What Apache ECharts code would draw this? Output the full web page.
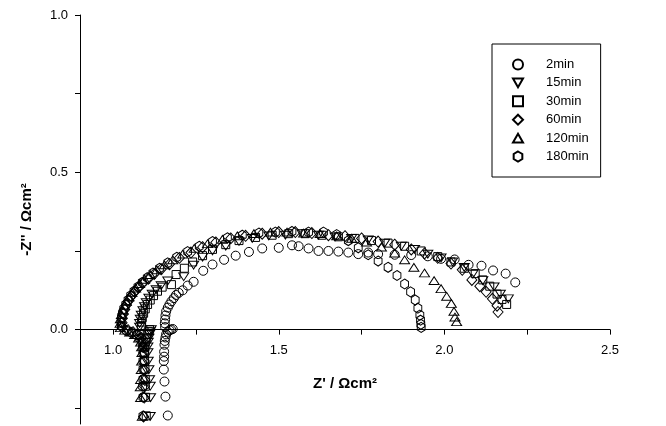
<!DOCTYPE html>
<html><head><meta charset="utf-8">
<script src="https://cdn.jsdelivr.net/npm/echarts@6/dist/echarts.min.js"></script>
<style>html,body{margin:0;padding:0;background:#fff}#c{width:666px;height:426px}</style>
</head><body><div id="c"></div>
<script>
const seriesNames = ['2min', '15min', '30min', '60min', '120min', '180min'];
const xTickValues = [1.0, 1.25, 1.5, 1.75, 2.0, 2.25, 2.5];
const xLabelValues = [1.0, 1.5, 2.0, 2.5];
const yTickValues = [-0.25, 0, 0.25, 0.5, 0.75, 1.0];
const yLabelValues = [0, 0.5, 1.0];

const data2min = [
  [1.165,-0.273],[1.158,-0.213],[1.155,-0.165],[1.153,-0.127],[1.153,-0.10],[1.154,-0.086],[1.154,-0.07],
  [1.155,-0.048],[1.156,-0.036],[1.158,-0.025],[1.16,-0.015],[1.165,-0.007],[1.17,-0.002],[1.175,0.0],[1.18,0.002],
  [1.157,0.008],[1.156,0.02],[1.157,0.032],[1.158,0.045],[1.16,0.058],[1.165,0.07],[1.17,0.08],[1.176,0.09],
  [1.183,0.10],[1.19,0.11],[1.198,0.117],[1.21,0.125],[1.225,0.14],[1.243,0.152],[1.272,0.187],[1.30,0.207],
  [1.335,0.222],[1.37,0.235],[1.41,0.247],[1.45,0.258],[1.50,0.26],[1.54,0.268],[1.56,0.265],[1.59,0.258],
  [1.62,0.25],[1.65,0.25],[1.68,0.248],[1.71,0.245],[1.74,0.24],[1.77,0.245],[1.80,0.24],[1.85,0.238],
  [1.90,0.237],[1.95,0.233],[1.99,0.225],[2.031,0.223],[2.073,0.206],[2.112,0.203],[2.147,0.188],[2.185,0.178],[2.214,0.15]
];
const data15min = [
  [1.112,-0.276],[1.113,-0.216],[1.112,-0.18],[1.11,-0.159],[1.108,-0.127],[1.106,-0.10],[1.105,-0.073],
  [1.105,-0.055],[1.106,-0.04],[1.108,-0.027],[1.11,-0.015],[1.112,-0.006],[1.115,0.0],
  [1.08,0.008],[1.08,0.02],[1.082,0.033],[1.085,0.046],[1.09,0.06],[1.095,0.073],[1.10,0.086],[1.108,0.10],
  [1.118,0.113],[1.13,0.127],[1.145,0.14],[1.165,0.155],[1.213,0.168],[1.243,0.205],[1.27,0.23],[1.30,0.25],
  [1.34,0.265],[1.38,0.28],[1.42,0.29],[1.47,0.298],[1.52,0.30],[1.57,0.305],[1.62,0.30],[1.67,0.295],
  [1.72,0.29],[1.77,0.285],[1.82,0.275],[1.87,0.265],[1.91,0.255],[1.95,0.24],[1.99,0.228],[2.025,0.215],
  [2.06,0.198],[2.086,0.176],[2.116,0.156],[2.15,0.136],[2.169,0.113],[2.193,0.098]
];
const data30min = [
  [1.10,-0.274],[1.098,-0.215],[1.097,-0.18],[1.097,-0.158],[1.096,-0.126],[1.095,-0.10],[1.095,-0.074],
  [1.096,-0.056],[1.097,-0.04],[1.10,-0.027],[1.103,-0.016],[1.106,-0.007],[1.11,0.0],
  [1.085,0.01],[1.086,0.024],[1.088,0.038],[1.092,0.052],[1.097,0.066],[1.104,0.08],[1.112,0.094],[1.122,0.108],
  [1.134,0.122],[1.148,0.135],[1.176,0.143],[1.19,0.175],[1.215,0.195],[1.24,0.215],[1.27,0.235],[1.30,0.255],
  [1.34,0.27],[1.38,0.283],[1.43,0.293],[1.48,0.30],[1.53,0.305],[1.58,0.305],[1.63,0.30],[1.68,0.295],
  [1.73,0.29],[1.78,0.283],[1.83,0.275],[1.88,0.265],[1.93,0.25],[1.98,0.232],[2.02,0.215],[2.06,0.195],
  [2.093,0.178],[2.116,0.158],[2.137,0.138],[2.159,0.113],[2.174,0.096],[2.188,0.08]
];
const data60min = [
  [1.092,-0.276],[1.094,-0.216],[1.095,-0.18],[1.096,-0.16],[1.095,-0.128],[1.094,-0.10],[1.093,-0.073],
  [1.092,-0.055],[1.09,-0.04],[1.085,-0.027],[1.075,-0.016],[1.06,-0.008],[1.045,-0.002],
  [1.028,0.008],[1.027,0.022],[1.028,0.036],[1.031,0.05],[1.035,0.064],[1.04,0.078],[1.047,0.092],[1.055,0.106],
  [1.065,0.12],[1.077,0.134],[1.09,0.148],[1.106,0.162],[1.124,0.177],[1.145,0.192],[1.17,0.208],[1.20,0.228],
  [1.235,0.245],[1.27,0.262],[1.31,0.277],[1.355,0.29],[1.40,0.298],[1.45,0.305],[1.50,0.31],[1.55,0.31],
  [1.60,0.307],[1.65,0.30],[1.70,0.297],[1.75,0.29],[1.80,0.28],[1.85,0.27],[1.90,0.255],[1.94,0.242],
  [1.98,0.228],[2.02,0.21],[2.054,0.19],[2.083,0.158],[2.107,0.138],[2.126,0.12],[2.145,0.098],[2.159,0.076],[2.162,0.056]
];
const data120min = [
  [1.088,-0.276],[1.083,-0.216],[1.082,-0.182],[1.083,-0.159],[1.085,-0.127],[1.086,-0.10],[1.087,-0.073],
  [1.086,-0.055],[1.083,-0.04],[1.077,-0.027],[1.065,-0.016],[1.05,-0.008],[1.035,-0.002],
  [1.022,0.006],[1.021,0.02],[1.022,0.034],[1.025,0.048],[1.029,0.062],[1.034,0.076],[1.04,0.09],[1.048,0.104],
  [1.057,0.118],[1.068,0.132],[1.08,0.146],[1.095,0.16],[1.112,0.175],[1.132,0.19],[1.155,0.206],[1.18,0.222],
  [1.21,0.24],[1.245,0.258],[1.285,0.273],[1.33,0.287],[1.375,0.298],[1.425,0.305],[1.475,0.31],[1.525,0.31],
  [1.575,0.307],[1.625,0.305],[1.675,0.298],[1.72,0.29],[1.765,0.278],[1.81,0.262],[1.85,0.243],[1.88,0.222],
  [1.908,0.198],[1.94,0.18],[1.969,0.156],[1.99,0.13],[2.007,0.106],[2.021,0.083],[2.029,0.058],[2.032,0.04],[2.037,0.025]
];
const data180min = [
  [1.09,-0.275],[1.09,-0.215],[1.089,-0.18],[1.09,-0.158],[1.09,-0.126],[1.09,-0.10],[1.09,-0.074],
  [1.089,-0.056],[1.087,-0.04],[1.08,-0.028],[1.07,-0.017],[1.055,-0.009],[1.04,-0.003],
  [1.025,0.01],[1.024,0.024],[1.025,0.038],[1.028,0.052],[1.032,0.066],[1.038,0.08],[1.045,0.094],[1.053,0.108],
  [1.063,0.122],[1.075,0.136],[1.088,0.15],[1.103,0.165],[1.12,0.18],[1.14,0.195],[1.165,0.212],[1.192,0.23],
  [1.225,0.248],[1.26,0.265],[1.30,0.28],[1.345,0.292],[1.39,0.30],[1.44,0.307],[1.49,0.31],[1.54,0.312],
  [1.59,0.31],[1.635,0.31],[1.675,0.302],[1.71,0.283],[1.74,0.26],[1.77,0.238],[1.80,0.218],[1.83,0.198],
  [1.857,0.172],[1.88,0.145],[1.898,0.12],[1.912,0.094],[1.92,0.068],[1.926,0.046],[1.928,0.03],[1.929,0.017],[1.93,0.007]
];
const seriesData = [data2min, data15min, data30min, data60min, data120min, data180min];

const symbolList = [
  'circle',
  'path://M0,0 L10,0 L5,8.66 Z',
  'rect',
  'diamond',
  'path://M5,0 L10,8.66 L0,8.66 Z',
  'path://M5,0 L9.33,2.5 L9.33,7.5 L5,10 L0.67,7.5 L0.67,2.5 Z'
];
const symbolSizes = [9, [10, 9], 8, [10, 11], [10, 9], [9, 10]];

const yMin = -0.3, yMax = 1.0, gridTop = 15, gridBottom = 2, H = 426;
const zeroOffset = -((H - gridTop - gridBottom) * (0 - yMin) / (yMax - yMin));

const chart = echarts.init(document.getElementById('c'), null, {renderer: 'canvas'});
const fmt = v => Number(v).toFixed(1);
const FONT = 'Liberation Sans, Arial, sans-serif';
chart.setOption({
  animation: false,
  backgroundColor: '#fff',
  textStyle: {fontFamily: FONT},
  grid: {left: 80, right: 56, top: gridTop, bottom: gridBottom, containLabel: false, outerBoundsMode: 'none'},
  legend: {
    orient: 'vertical', left: 492, top: 44,
    padding: [14, 12, 14, 20],
    borderColor: '#000', borderWidth: 1,
    itemWidth: 10, itemHeight: 10, itemGap: 5.4,
    data: seriesNames,
    textStyle: {fontSize: 13, color: '#000', lineHeight: 10, padding: [0, 0, 0, 18], fontFamily: FONT}
  },
  xAxis: {
    type: 'value', min: 0.9, max: 2.5, position: 'bottom', offset: zeroOffset,
    name: "Z' / Ωcm²", nameLocation: 'middle', nameGap: 47,
    nameTextStyle: {fontSize: 15, fontWeight: 'bold', color: '#000', fontFamily: FONT},
    axisLine: {onZero: false, lineStyle: {color: '#000', width: 1}},
    axisTick: {show: true, length: 5, inside: false, customValues: xTickValues, lineStyle: {color: '#000'}},
    axisLabel: {customValues: xLabelValues, formatter: fmt, fontSize: 13, color: '#000', margin: 14},
    splitLine: {show: false}
  },
  yAxis: {
    type: 'value', min: yMin, max: yMax,
    name: "-Z'' / Ωcm²", nameLocation: 'middle', nameGap: 46, nameRotate: 90,
    nameTextStyle: {fontSize: 15, fontWeight: 'bold', color: '#000', fontFamily: FONT},
    axisLine: {onZero: false, lineStyle: {color: '#000', width: 1}},
    axisTick: {show: true, length: 5, inside: false, customValues: yTickValues, lineStyle: {color: '#000'}},
    axisLabel: {customValues: yLabelValues, formatter: fmt, fontSize: 13, color: '#000', margin: 12},
    splitLine: {show: false}
  },
  series: seriesNames.map((name, i) => ({
    name: name,
    type: 'scatter',
    data: seriesData[i],
    symbol: symbolList[i],
    symbolSize: symbolSizes[i],
    symbolKeepAspect: true,
    itemStyle: {color: 'rgba(0,0,0,0)', borderColor: '#000', borderWidth: 1, opacity: 1},
    emphasis: {disabled: true}
  }))
});
</script>
</body></html>
